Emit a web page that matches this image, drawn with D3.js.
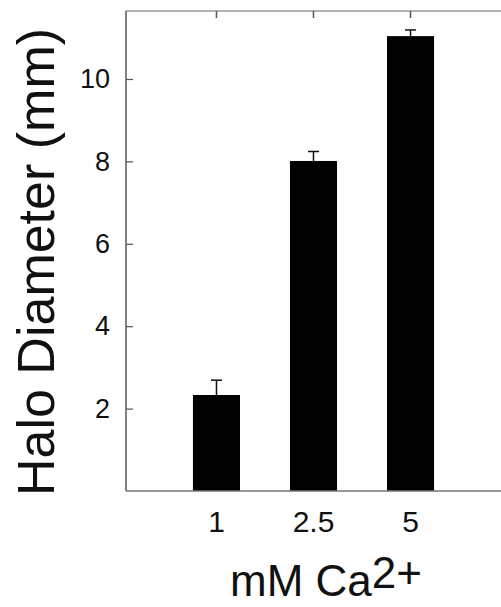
<!DOCTYPE html>
<html>
  <head>
    <meta charset="UTF-8" />
    <title>Halo Diameter vs Ca2+</title>
    <style>
      body { margin: 0; background: #fff; }
      svg { display: block; font-family: "Liberation Sans", Arial, sans-serif; }
    </style>
  </head>
  <body>
    <svg></svg>
    <script src="https://d3js.org/d3.v7.min.js"></script>
    <script>
      // data
      var categories = ["1", "2.5", "5"];
      var halo = [2.33, 8.01, 11.04];
      var errs = [0.36, 0.23, 0.15];
      var yTicks = [2, 4, 6, 8, 10];

      let width = 501,
        height = 607;
      let svg = d3.select("svg").attr("width", width).attr("height", height);

      let mLeft = 126, mRight = 501, mTop = 11, mBottom = 491;

      let x = d3.scaleBand()
        .domain(categories)
        .range([mLeft, mRight])
        .paddingInner(0.515)
        .paddingOuter(0.69);

      let y = d3.scaleLinear().domain([0, 11.65]).range([mBottom, mTop]);

      // frame line on top (no right side)
      svg.append("line")
        .attr("x1", mLeft).attr("x2", mRight)
        .attr("y1", mTop).attr("y2", mTop)
        .attr("stroke", "#999").attr("stroke-width", 1.5);

      // bars
      svg.append("g")
        .selectAll("rect")
        .data(halo)
        .enter()
        .append("rect")
        .attr("x", (d, i) => x(categories[i]))
        .attr("width", x.bandwidth())
        .attr("y", d => y(d))
        .attr("height", d => y(0) - y(d))
        .attr("fill", "#000");

      // error bars (upper only)
      let eb = svg.append("g").attr("stroke", "#111").attr("stroke-width", 1.5);
      halo.forEach(function (d, i) {
        let cx = x(categories[i]) + x.bandwidth() / 2;
        eb.append("line")
          .attr("x1", cx).attr("x2", cx)
          .attr("y1", y(d)).attr("y2", y(d + errs[i]));
        eb.append("line")
          .attr("x1", cx - 5.5).attr("x2", cx + 5.5)
          .attr("y1", y(d + errs[i])).attr("y2", y(d + errs[i]));
      });

      // left axis
      let yAxis = d3.axisLeft(y)
        .tickValues(yTicks)
        .tickSizeInner(-7)
        .tickSizeOuter(0)
        .tickPadding(16);
      let gy = svg.append("g")
        .attr("transform", "translate(" + mLeft + ",0)")
        .call(yAxis);
      gy.select(".domain").attr("stroke", "#555").attr("stroke-width", 1.5)
        .attr("d", "M0," + mTop + "V" + mBottom);
      gy.selectAll(".tick line").attr("stroke", "#555").attr("stroke-width", 1.2);
      gy.selectAll(".tick text")
        .attr("font-size", 27)
        .attr("font-family", "Liberation Sans, Arial, sans-serif")
        .attr("fill", "#111");

      // bottom axis
      let xAxis = d3.axisBottom(x).tickSize(0).tickPadding(20);
      let gx = svg.append("g")
        .attr("transform", "translate(0," + mBottom + ")")
        .call(xAxis);
      gx.select(".domain").attr("stroke", "#777").attr("stroke-width", 1.5)
        .attr("d", "M" + mLeft + ",0H" + mRight);
      gx.selectAll(".tick text")
        .attr("font-size", 30)
        .attr("font-family", "Liberation Sans, Arial, sans-serif")
        .attr("fill", "#111");

      // small ticks on the top frame
      let gt = svg.append("g")
        .attr("transform", "translate(0," + mTop + ")")
        .call(d3.axisTop(x).tickSize(-7).tickFormat(""));
      gt.select(".domain").remove();
      gt.selectAll(".tick line").attr("stroke", "#555").attr("stroke-width", 1.5);

      // axis titles
      svg.append("text")
        .attr("transform", "translate(54," + 262 + ") rotate(-90)")
        .attr("text-anchor", "middle")
        .attr("font-size", 52)
        .attr("fill", "#111")
        .text("Halo Diameter (mm)");

      let xt = svg.append("text")
        .attr("x", 326)
        .attr("y", 596)
        .attr("text-anchor", "middle")
        .attr("font-size", 44)
        .attr("fill", "#111");
      xt.append("tspan").text("mM Ca");
      xt.append("tspan").attr("dy", -8).text("2+");
    </script>
  </body>
</html>
